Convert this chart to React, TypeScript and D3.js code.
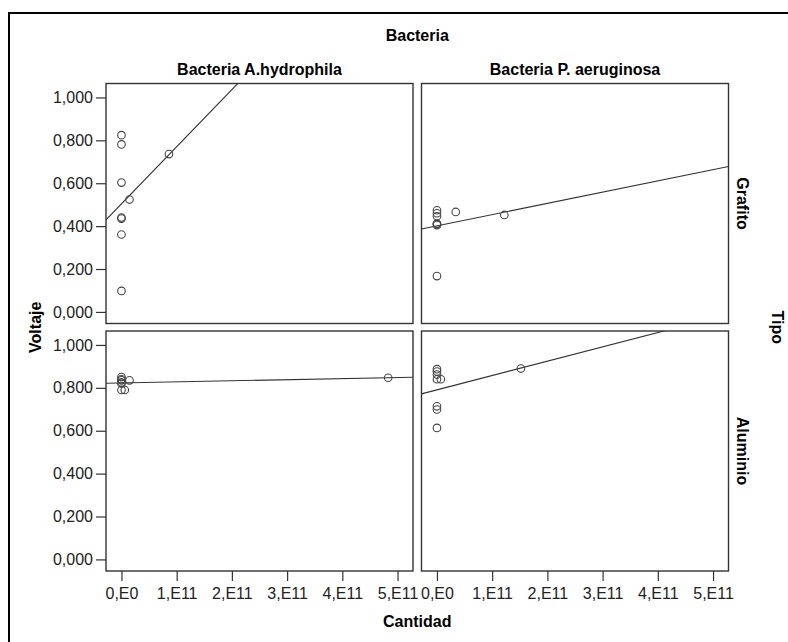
import React, { useRef, useEffect } from "react";
import * as d3 from "d3";

// panel headings
const bacterias = ["Bacteria A.hydrophila", "Bacteria P. aeruginosa"];
const tipos = ["Grafito", "Aluminio"];

// Cantidad (x) and Voltaje (y) for each panel
const hydroGrafitoX = [0, 0, 0, 0, 0, 0, 0, 1.45e10, 8.6e10];
const hydroGrafitoY = [0.824, 0.781, 0.603, 0.44, 0.435, 0.361, 0.098, 0.524, 0.736];

const aeruGrafitoX = [0, 0, 0, 0, 0, 0, 0, 3.4e10, 1.22e11];
const aeruGrafitoY = [0.474, 0.46, 0.446, 0.412, 0.41, 0.405, 0.167, 0.466, 0.452];

const hydroAlumX = [0, 0, 0, 0, 0, 0, 6e9, 1.45e10, 4.83e11];
const hydroAlumY = [0.85, 0.84, 0.835, 0.825, 0.82, 0.79, 0.79, 0.835, 0.847];

const aeruAlumX = [0, 0, 0, 0, 7e9, 0, 0, 0, 1.52e11];
const aeruAlumY = [0.887, 0.876, 0.862, 0.84, 0.84, 0.714, 0.699, 0.613, 0.89];

const xTicks = [0, 1e11, 2e11, 3e11, 4e11, 5e11];
const xTickLabels = ["0,E0", "1,E11", "2,E11", "3,E11", "4,E11", "5,E11"];
const yTicks = [0, 0.2, 0.4, 0.6, 0.8, 1.0];
const yTickLabels = ["0,000", "0,200", "0,400", "0,600", "0,800", "1,000"];

const xDomain = [-0.28e11, 5.28e11];
const yDomain = [-0.054, 1.065];

const FONT = "'Liberation Sans', Arial, sans-serif";
const INK = "#333";

function fit(xs: number[], ys: number[]) {
  const mx = d3.mean(xs) as number;
  const my = d3.mean(ys) as number;
  const sxy = d3.sum(xs, (x, i) => (x - mx) * (ys[i] - my));
  const sxx = d3.sum(xs, (x) => (x - mx) * (x - mx));
  const b = sxy / sxx;
  return { a: my - b * mx, b };
}

export default function App() {
  const svgRef = useRef<SVGSVGElement | null>(null);

  useEffect(() => {
    const svg = d3.select(svgRef.current);
    svg.selectAll("*").remove();

    const panelW = 307, panelH = 240;
    const colX = [106, 421.5];
    const rowY = [83.5, 331];

    const panels = [
      { r: 0, c: 0, xs: hydroGrafitoX, ys: hydroGrafitoY },
      { r: 0, c: 1, xs: aeruGrafitoX, ys: aeruGrafitoY },
      { r: 1, c: 0, xs: hydroAlumX, ys: hydroAlumY },
      { r: 1, c: 1, xs: aeruAlumX, ys: aeruAlumY },
    ];

    // outer frame (only left/top show in the window)
    svg.append("rect").attr("x", 9).attr("y", 13).attr("width", 820).attr("height", 660)
      .attr("fill", "none").attr("stroke", "#000").attr("stroke-width", 2);

    const x = d3.scaleLinear().domain(xDomain).range([0, panelW]);
    const y = d3.scaleLinear().domain(yDomain).range([panelH, 0]);

    const defs = svg.append("defs");
    defs.append("clipPath").attr("id", "panel-clip")
      .append("rect").attr("width", panelW).attr("height", panelH);

    panels.forEach((p) => {
      const g = svg.append("g").attr("transform", `translate(${colX[p.c]},${rowY[p.r]})`);

      g.append("rect").attr("width", panelW).attr("height", panelH)
        .attr("fill", "#fff").attr("stroke", INK).attr("stroke-width", 1.4);

      const { a, b } = fit(p.xs, p.ys);
      const inner = g.append("g").attr("clip-path", "url(#panel-clip)");
      inner.append("line")
        .attr("x1", x(xDomain[0])).attr("y1", y(a + b * xDomain[0]))
        .attr("x2", x(xDomain[1])).attr("y2", y(a + b * xDomain[1]))
        .attr("stroke", INK).attr("stroke-width", 1.1);

      inner.selectAll("circle").data(p.xs).join("circle")
        .attr("cx", (d) => x(d))
        .attr("cy", (d, i) => y(p.ys[i]))
        .attr("r", 3.8)
        .attr("fill", "none")
        .attr("stroke", "#444")
        .attr("stroke-width", 1.1);

      if (p.c === 0) {
        const ax = g.append("g").call(
          d3.axisLeft(y).tickValues(yTicks).tickSize(10).tickPadding(3)
            .tickFormat((d, i) => yTickLabels[i])
        );
        ax.select(".domain").remove();
        ax.selectAll("line").attr("stroke", INK).attr("stroke-width", 1.2);
        ax.selectAll("text").attr("font-family", FONT).attr("font-size", 16).attr("fill", "#222");
      }
      if (p.r === 1) {
        const ax = g.append("g").attr("transform", `translate(0,${panelH})`).call(
          d3.axisBottom(x).tickValues(xTicks).tickSize(10).tickPadding(7)
            .tickFormat((d, i) => xTickLabels[i])
        );
        ax.select(".domain").remove();
        ax.selectAll("line").attr("stroke", INK).attr("stroke-width", 1.2);
        ax.selectAll("text").attr("font-family", FONT).attr("font-size", 16).attr("fill", "#222");
      }
    });

    const title = (txt: string, tx: number, ty: number, rot: number) =>
      svg.append("text")
        .attr("transform", `translate(${tx},${ty}) rotate(${rot})`)
        .attr("text-anchor", "middle")
        .attr("font-family", FONT).attr("font-size", 16).attr("font-weight", "bold")
        .attr("fill", "#000")
        .text(txt);

    const midX = (colX[0] + colX[1] + panelW) / 2;
    const midY = (rowY[0] + rowY[1] + panelH) / 2;

    title("Bacteria", midX, 41, 0);
    bacterias.forEach((t, i) => title(t, colX[i] + panelW / 2, 75, 0));
    tipos.forEach((t, i) => title(t, 737, rowY[i] + panelH / 2, 90));
    title("Tipo", 772, midY, 90);
    title("Voltaje", 40.5, midY, -90);
    title("Cantidad", midX, 627, 0);
  }, []);

  return (
    <svg
      ref={svgRef}
      width={788}
      height={642}
      style={{ position: "absolute", left: 0, top: 0, background: "#fff" }}
    />
  );
}
